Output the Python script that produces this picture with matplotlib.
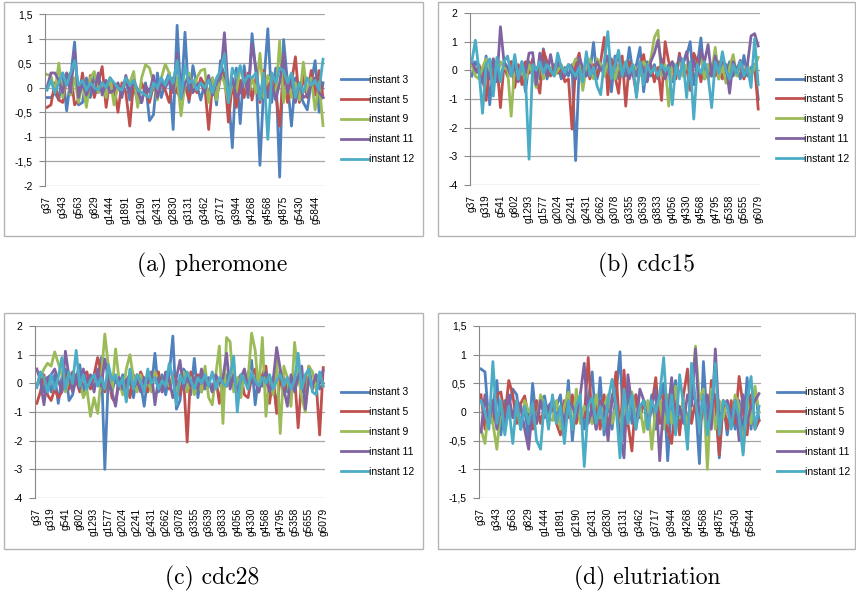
import matplotlib.pyplot as plt
from matplotlib.patches import Rectangle

W, H = 856, 594

series_names = ['instant 3', 'instant 5', 'instant 9', 'instant 11', 'instant 12']
colors = ['#4f81bd', '#c0504d', '#9bbb59', '#8064a2', '#4bacc6']

# tick labels (every 4th gene is labelled)
labels_ad = ['g37', 'g343', 'g563', 'g829', 'g1444', 'g1891', 'g2190', 'g2431', 'g2830',
             'g3131', 'g3462', 'g3717', 'g3944', 'g4268', 'g4568', 'g4875', 'g5430', 'g5844']
labels_bc = ['g37', 'g319', 'g541', 'g802', 'g1293', 'g1577', 'g2024', 'g2241', 'g2431',
             'g2662', 'g3078', 'g3355', 'g3639', 'g3833', 'g4056', 'g4330', 'g4568', 'g4795',
             'g5358', 'g5655', 'g6079']

# (a) pheromone
pher_3 = [-0.2, -0.2, -0.1, -0.25, 0.3, -0.47, 0.2, 0.93, -0.35, -0.3, 0.2, -0.2, 0.25, -0.1, 0.05, -0.2,
          0.1, -0.15, 0.05, -0.1, 0.2, -0.25, 0.05, -0.3, -0.3, 0.1, -0.67, -0.55, 0.3, -0.2, 0.1, 0.3,
          -0.85, 1.27, -0.25, 1.13, -0.3, 0.45, 0.05, -0.25, 0.1, -0.15, 0.2, -0.35, 0.55, 0.2, -0.1, -1.22,
          0.4, -0.73, 0.45, -0.2, 1.1, 0.3, -1.58, 0.1, 1.2, -0.3, 0.4, -1.82, 0.98, 0.1, -0.78, 0.2,
          -0.1, -0.3, -0.45, 0.1, 0.55, -0.5, 0.1]
pher_5 = [-0.4, -0.35, 0.1, -0.25, -0.3, 0.2, 0.3, -0.35, -0.25, 0.3, -0.3, 0.25, -0.2, 0.1, 0.43, -0.4,
          0.2, 0.05, -0.5, 0.1, -0.1, -0.78, 0.15, -0.2, 0.1, -0.1, -0.3, 0.05, -0.2, 0.1, -0.05, -0.3,
          0.2, -0.1, -0.2, 0.05, -0.25, 0.1, -0.1, 0.2, 0.05, -0.85, 0.1, -0.2, 0.2, 0.3, -0.7, 0.1,
          -0.4, 0.15, -0.2, 0.3, -0.25, 0.2, -0.3, 0.35, -0.1, 0.3, -0.1, -0.78, 0.4, -0.3, 0.1, 0.63,
          -0.3, 0.25, -0.2, 0.35, -0.15, 0.35, -0.2]
pher_9 = [0.27, 0.25, -0.1, 0.5, -0.2, 0.3, -0.15, 0.2, -0.3, 0.1, -0.4, 0.2, 0.33, -0.1, 0.1, -0.2,
          0.2, -0.35, 0.05, -0.15, 0.2, 0.1, 0.33, -0.4, 0.2, 0.47, 0.4, 0.1, -0.25, 0.2, 0.48, 0.3,
          -0.1, 0.2, -0.57, 0.1, 0.3, -0.1, 0.2, 0.35, 0.38, -0.3, 0.2, -0.25, 0.3, 0.1, -0.3, 0.1,
          -0.1, 0.4, 0.2, -0.15, 0.2, -0.1, 0.7, -0.2, 0.25, 0.1, -0.2, 0.95, -0.3, 0.2, -0.2, 0.1,
          -0.25, 0.52, -0.1, 0.2, -0.45, 0.1, -0.77]
pher_11 = [0.0, 0.3, 0.3, 0.15, -0.1, 0.3, -0.1, 0.75, -0.2, 0.1, -0.15, 0.05, -0.1, 0.3, -0.15, 0.15,
           -0.1, -0.05, 0.1, -0.2, 0.25, -0.1, 0.15, -0.05, -0.3, 0.05, -0.1, 0.25, -0.2, 0.1, 0.0, 0.15,
           -0.1, 0.7, -0.2, 0.1, 0.2, -0.1, 0.05, 0.1, -0.1, 0.25, -0.15, 0.1, 0.2, 1.12, -0.1, 0.2,
           -0.2, -0.1, 0.3, -0.15, 0.9, 0.38, -0.2, 0.15, -0.2, 0.1, -0.25, 0.1, 0.7, -0.1, 0.2, -0.3,
           0.1, -0.2, -0.15, 0.05, 0.2, -0.1, -0.2]
pher_12 = [-0.05, 0.15, -0.1, 0.1, 0.3, 0.05, 0.3, 0.55, 0.05, 0.15, -0.05, 0.1, 0.0, -0.05, 0.1, 0.0,
           0.2, 0.1, 0.0, -0.05, 0.2, 0.05, 0.15, -0.05, -0.1, -0.15, -0.2, 0.1, 0.0, 0.2, 0.05, 0.25,
           0.1, 0.55, -0.2, 0.45, 0.1, 0.15, -0.05, 0.1, 0.0, 0.15, -0.1, 0.2, 0.35, 0.68, -0.3, 0.4,
           0.2, 0.45, 0.1, 0.25, 0.2, 0.3, -0.25, 0.3, -1.05, 0.3, 0.1, 0.4, 0.35, 0.1, 0.3, -0.2,
           0.1, -0.1, 0.2, 0.05, 0.15, -0.05, 0.58]

# (b) cdc15
c15_3 = [-0.2, 0.3, 0.1, -0.3, 0.5, -1.2, 0.2, -0.1, -0.3, 0.2, -0.2, 0.3, 0.1, -0.2, 0.2, -0.75,
         0.3, -0.2, 0.1, -0.3, 0.75, -0.3, 0.1, -0.1, 0.2, -0.3, 0.1, -0.2, 0.2, -3.15, 0.1, -0.3,
         0.4, -0.1, 0.97, -0.3, 0.2, -0.2, 0.3, -0.75, 0.5, -0.3, 0.3, -0.2, 0.8, -0.1, 0.2, 0.8,
         -0.75, 0.3, -0.2, 0.2, -0.3, 0.4, -0.1, 0.2, -0.4, 0.1, -0.2, 0.3, 0.5, 1.0, -0.5, 0.2,
         1.13, -0.3, 0.2, -0.2, 0.3, -0.3, 0.2, -0.1, 0.3, -0.2, 0.1, -0.3, 0.52, -0.2, 0.1, 0.2, -1.0]
c15_5 = [0.3, -0.1, 0.2, -0.2, -1.05, 0.2, -0.3, 0.3, -1.3, 0.2, -0.2, 0.3, -0.6, 0.2, -0.5, 0.3,
         -0.1, 0.4, -0.3, -0.8, 0.7, 0.3, -0.2, 0.2, -0.1, 0.1, -0.4, -0.3, -2.05, 0.2, 0.6, -0.2,
         0.1, -0.3, 0.2, -0.2, 0.3, 1.15, -0.85, 0.4, -0.2, -0.8, 0.5, -1.25, 0.3, -0.1, -0.85, 0.2,
         0.55, -0.3, 0.2, -0.4, 0.1, -1.05, 1.0, 0.3, 0.1, -0.3, 0.6, -0.2, 0.1, -0.7, 0.6, 0.3,
         -0.4, 0.3, -0.3, 0.2, -0.2, 0.3, -0.3, 0.1, -0.2, 0.3, -0.1, 0.2, -0.3, 0.1, -0.2, 0.2, -1.35]
c15_9 = [0.2, -0.2, -0.3, 0.1, 0.4, -0.2, 0.4, -0.3, 0.3, 0.1, 0.0, -1.6, 0.2, -0.2, 0.1, -0.4,
         0.2, -0.1, -0.6, 0.4, -0.3, -0.1, 0.1, -0.2, 0.0, 0.2, -0.1, 0.2, 0.1, 0.4, 0.3, -0.7,
         0.1, 0.4, -0.3, 0.4, 0.2, -0.2, 0.3, 0.1, -0.3, 0.2, -0.1, 0.3, -0.2, 0.2, 0.0, -0.2,
         0.3, 0.1, 0.4, 1.15, 1.4, -0.2, 0.2, -1.25, 0.3, 0.1, 0.4, -0.2, 0.2, -0.1, 0.3, 0.1,
         0.5, -0.3, 0.2, -0.1, 0.8, -0.3, 0.2, -0.45, 0.1, 0.55, -0.2, 0.3, -0.1, 0.2, -0.2, 0.1, 0.45]
c15_11 = [0.35, 0.0, -0.1, -0.45, 0.1, -0.3, 0.4, -0.4, 1.52, 0.3, 0.1, -0.2, 0.2, -0.4, 0.3, -0.1,
          0.6, 0.62, -0.5, 0.6, 0.1, -0.2, 0.55, -0.1, 0.3, 0.1, -0.2, 0.2, 0.1, -0.3, 0.45, 0.1,
          -0.2, 0.2, -0.1, 0.3, 0.0, 0.2, 0.5, -0.3, 0.2, 0.5, -0.2, 0.2, -0.3, 0.1, -0.2, 0.3,
          0.0, -0.4, 0.3, 0.6, 1.05, 0.2, -0.3, 0.1, 0.3, -0.1, 0.5, 0.2, 0.65, -0.3, 0.4, -0.2,
          0.7, 0.3, 0.9, -0.2, 0.5, 0.0, 0.3, 0.2, -0.8, 0.3, 0.0, 0.35, -0.2, 0.2, 1.2, 1.28, 0.85]
c15_12 = [0.3, 1.05, 0.0, -1.5, 0.2, 0.4, -0.9, 0.45, -0.4, 0.3, 0.5, -0.2, 0.55, -0.3, 0.3, -0.3,
          -3.1, 0.2, 0.0, 0.3, -0.1, 0.2, 0.0, -0.2, 0.6, 0.1, -0.1, 0.2, 0.0, -0.2, 0.1, -0.4,
          0.65, -0.2, 0.1, -0.55, -0.85, 0.3, 1.35, -0.3, 0.2, 0.7, -0.2, 0.3, -0.1, 0.2, -0.95, 0.3,
          -0.5, 0.2, -0.1, 0.1, -0.2, 0.2, 0.0, 0.1, -1.2, 0.2, -0.3, 0.4, -0.95, 0.3, -1.7, 0.2,
          -0.1, 0.3, -0.2, -1.3, 0.3, -0.1, 0.65, 0.0, -0.3, 0.2, -0.1, 0.3, -0.2, 0.1, -0.6, 1.1, -0.5]

# (c) cdc28
c28_3 = [-0.1, 0.3, -0.3, 0.2, -0.3, 0.3, -0.7, 0.2, 0.5, -0.6, -0.4, 0.2, 0.65, -0.3, 0.2, -0.1,
         0.3, 0.1, 0.9, -3.0, 0.3, -0.3, 0.2, -0.2, 0.3, -0.2, 0.1, -0.5, 0.3, 0.0, -0.8, 0.2,
         -0.2, 1.05, -0.3, 0.3, -0.4, 0.3, 1.65, -0.9, -0.6, 0.5, 0.3, -0.4, 0.87, -0.5, 0.3, -0.2,
         0.1, -0.3, 0.2, 0.0, -0.3, 0.3, -0.1, 0.2, -0.3, 0.1, 0.2, 0.3, 0.8, -0.75, 0.3, -0.1,
         0.2, -0.3, 0.1, -0.9, 0.4, 0.2, -0.3, 0.1, -0.2, 0.3, -0.3, 0.2, 0.1, -0.2, 0.3, -0.2, 0.0]
c28_5 = [-0.7, -0.3, 0.3, -0.4, -0.6, -0.2, -0.5, -0.3, 0.3, -0.2, 0.4, 0.1, -0.3, 0.3, 0.4, -0.2,
         0.3, 0.9, 0.4, -0.3, 0.2, -0.5, -0.7, 0.2, -0.3, 0.1, -0.5, 0.3, -0.2, 0.4, 0.1, -0.3,
         0.2, 0.1, 0.4, -0.3, 0.3, -0.2, 0.3, 0.1, -0.4, 0.2, -2.05, 0.4, -0.2, 0.3, -0.3, 0.1,
         0.0, -0.2, 0.2, -0.7, 0.2, -0.1, 0.3, -0.2, 0.1, 0.3, -0.4, -0.5, 0.2, 0.5, -0.3, 0.3,
         0.6, -0.7, 0.2, -1.05, 0.3, -0.4, 0.2, -0.5, 0.3, -1.55, 0.2, -0.3, 0.6, -0.2, 0.1, -1.8, 0.55]
c28_9 = [-0.1, 0.2, 0.5, 0.7, 0.6, 1.1, 0.7, 0.3, -0.3, 0.2, -0.2, 0.3, 0.1, -0.5, -0.2, -1.15,
         -0.5, -1.05, 0.2, 1.72, 0.6, -0.3, 1.2, 0.1, -0.4, 0.5, 1.0, 0.2, -0.3, 0.3, -0.2, 0.1,
         -0.3, 0.4, 0.1, -0.2, 0.3, -0.1, 0.2, -0.3, 0.1, 0.4, -0.3, 0.2, -0.4, 0.1, -0.3, 0.6,
         -0.5, -0.75, 0.3, 1.3, -1.4, 1.6, 1.45, -0.3, 0.2, -0.5, 0.4, 0.1, 1.75, 1.15, -0.3, 1.6,
         -1.15, 0.3, -0.4, 0.9, -1.75, 0.6, 0.2, -0.8, 1.43, 0.3, -0.5, -1.0, 0.6, 0.4, -0.2, 0.2, -0.1]
c28_11 = [0.5, 0.1, -0.75, 0.2, 0.3, 0.5, 0.1, -0.3, 1.12, 0.2, -0.3, 0.3, -0.2, 0.5, -0.1, 0.3,
          -0.3, 0.5, -0.1, 0.85, 0.1, -0.3, -0.8, 0.2, -0.2, 0.1, 0.3, -0.2, 0.1, -0.3, 0.2, 0.0,
          0.4, -0.75, 0.2, -0.3, 0.4, 0.1, -0.5, 0.2, 0.8, -0.2, 0.3, -0.1, 0.2, -0.2, 0.5, -0.1,
          0.2, -0.3, 0.3, 0.0, 0.2, 1.05, -0.2, 0.3, -0.3, 0.2, 0.5, -0.2, 0.3, 0.1, -0.3, 0.2,
          0.4, -0.3, 0.1, 1.25, 0.5, -0.2, -0.8, 0.3, -0.3, 0.2, 0.6, -0.9, 0.2, -0.1, 0.3, 0.0, 0.45]
c28_12 = [-0.15, 0.4, 0.2, -0.3, 0.3, -0.2, 0.2, 0.9, -0.2, 0.4, 0.0, 1.15, -0.1, 0.3, -0.2, 0.1,
          0.3, -0.1, 0.2, -0.2, 0.65, 0.1, 0.3, -0.1, 0.2, -0.65, 0.5, -0.2, 0.3, 0.1, -0.3, 0.5,
          0.0, 0.2, -0.2, 0.1, -0.1, 0.7, 0.2, -0.75, 0.3, 0.0, 0.4, 0.1, -0.2, 0.2, 0.0, 0.3,
          -0.1, 0.4, -0.2, 0.2, 0.0, -0.1, 0.3, 0.95, -1.0, 0.3, 0.1, -0.2, 0.4, 0.1, -0.1, 0.2,
          0.0, 0.3, -0.2, 0.1, 0.3, -0.1, 0.2, -0.2, 0.1, 1.05, -0.2, 0.3, 0.5, -0.3, -0.4, 0.4, -0.1]

# (d) elutriation
elu_3 = [0.75, 0.7, -0.2, 0.1, 0.55, -0.4, 0.2, 0.1, 0.4, 0.3, -0.3, 0.1, -0.5, 0.5, -0.2, 0.2,
         0.28, -0.1, 0.2, 0.1, 0.3, -0.3, 0.55, -0.5, 0.2, 0.1, -0.3, 0.2, 0.7, -0.3, 0.6, -0.4,
         0.2, -0.3, 0.3, 1.05, -0.5, 0.4, -0.2, 0.3, -0.1, 0.2, -0.2, 0.3, -0.3, 0.2, 0.5, -0.85,
         0.2, 0.55, -0.3, 0.2, -0.2, 0.3, 0.2, -0.9, 0.88, -0.2, 0.1, 0.3, -0.8, 0.2, -0.4, 0.1,
         -0.3, 0.2, -0.4, 0.6, -0.3, 0.4, -0.15]
elu_5 = [0.3, -0.3, 0.1, -0.2, 0.3, 0.35, -0.1, 0.55, 0.3, -0.2, 0.15, 0.28, -0.1, -0.3, 0.2, -0.2,
         0.1, 0.05, 0.1, -0.2, -0.4, 0.2, -0.1, 0.3, -0.2, 0.1, -0.1, 0.95, -0.2, 0.2, -0.3, 0.3,
         -0.3, 0.2, 0.7, -0.4, 0.73, -0.2, -0.68, 0.3, -0.1, 0.2, -0.3, 0.1, 0.6, -0.2, 0.3, -0.3,
         -0.55, 0.2, -0.4, 0.3, 0.75, -0.2, 0.2, -0.3, 0.1, -0.4, 0.55, 0.1, -0.75, 0.2, -0.3, 0.2,
         -0.2, 0.62, 0.1, -0.4, 0.3, -0.3, -0.15]
elu_9 = [-0.3, -0.55, 0.1, -0.2, -0.65, 0.1, -0.2, 0.2, -0.1, 0.1, -0.3, 0.2, 0.0, 0.1, -0.2, 0.3,
         0.1, -0.1, -0.15, 0.2, -0.3, 0.1, 0.35, -0.3, 0.4, -0.2, 0.1, 0.0, -0.2, 0.3, -0.1, 0.1,
         0.3, -0.2, 0.1, -0.3, 0.2, -0.2, 0.35, -0.1, 0.1, -0.35, 0.2, -0.65, 0.1, 0.2, -0.3, 0.3,
         -0.2, 0.45, -0.1, 0.2, -0.3, 0.3, 1.15, 0.2, 0.4, -1.0, 0.4, -0.3, 0.2, -0.1, 0.2, -0.2,
         0.3, 0.1, -0.7, 0.2, -0.2, 0.45, 0.0]
elu_11 = [-0.35, 0.3, -0.2, 0.2, -0.3, 0.1, -0.2, 0.3, -0.1, 0.2, 0.1, -0.3, -0.65, 0.1, -0.2, 0.2,
          -0.1, 0.1, 0.2, -0.1, 0.1, -0.2, 0.2, 0.1, -0.1, 0.3, 0.85, -0.2, 0.1, -0.3, 0.2, 0.1,
          -0.5, 0.3, 0.1, -0.4, -0.8, 0.65, 0.1, -0.3, 0.4, 0.2, -0.2, 0.1, 0.4, -0.85, 0.2, -0.1,
          0.6, -0.3, 0.1, -0.2, 0.3, 0.1, 1.1, -0.2, 0.1, 0.3, -0.3, 1.1, -0.2, 0.1, 0.2, -0.1,
          0.2, -0.5, 0.3, -0.2, 0.1, 0.2, 0.32]
elu_12 = [0.2, 0.0, -0.3, 0.88, -0.2, 0.2, -0.4, 0.1, -0.55, 0.2, -0.3, 0.1, -0.2, 0.15, -0.5, -0.65,
          0.2, -0.3, 0.3, -0.2, 0.1, -0.55, 0.2, -0.3, 0.1, 0.3, -0.95, 0.1, 0.25, -0.2, 0.1, -0.3,
          0.2, 0.57, 0.1, -0.8, 0.4, -0.2, 0.3, -0.3, 0.1, 0.2, -0.3, 0.2, 0.0, 0.3, 0.95, -0.2,
          0.3, -0.4, 0.65, 0.1, -0.65, 0.85, 0.2, -0.3, 0.3, -0.4, 0.1, 0.85, -0.4, 0.2, 0.1, -0.3,
          0.2, -0.1, -0.75, 0.2, 0.62, -0.3, 0.1]

yt_a = [1.5, 1, 0.5, 0, -0.5, -1, -1.5, -2]
yl_a = ['1,5', '1', '0,5', '0', '-0,5', '-1', '-1,5', '-2']
yt_b = [2, 1, 0, -1, -2, -3, -4]
yl_b = ['2', '1', '0', '-1', '-2', '-3', '-4']
yt_d = [1.5, 1, 0.5, 0, -0.5, -1, -1.5]
yl_d = ['1,5', '1', '0,5', '0', '-0,5', '-1', '-1,5']

panels = [
    dict(frame=(4, 2, 423, 236), ax=(45, 14, 325, 186), data=[pher_3, pher_5, pher_9, pher_11, pher_12],
         yt=yt_a, yl=yl_a, xl=labels_ad, leg=(341, 119.5), cap='(a) pheromone', capxy=(212, 265)),
    dict(frame=(438, 2, 855, 236), ax=(470, 13, 760, 185), data=[c15_3, c15_5, c15_9, c15_11, c15_12],
         yt=yt_b, yl=yl_b, xl=labels_bc, leg=(776, 119), cap='(b) cdc15', capxy=(647, 265)),
    dict(frame=(4, 313, 423, 549), ax=(35, 326, 325, 498), data=[c28_3, c28_5, c28_9, c28_11, c28_12],
         yt=yt_b, yl=yl_b, xl=labels_bc, leg=(341, 432), cap='(c) cdc28', capxy=(212, 578)),
    dict(frame=(438, 313, 855, 549), ax=(479, 326, 761, 498), data=[elu_3, elu_5, elu_9, elu_11, elu_12],
         yt=yt_d, yl=yl_d, xl=labels_ad, leg=(777, 432), cap='(d) elutriation', capxy=(647, 578)),
]

fig = plt.figure(figsize=(W / 100, H / 100), dpi=100)


def rect(x0, y0, x1, y1):
    return [x0 / W, 1 - y1 / H, (x1 - x0) / W, (y1 - y0) / H]


for p in panels:
    x0, y0, x1, y1 = p['frame']
    fig.patches.append(Rectangle((x0 / W, 1 - y1 / H), (x1 - x0) / W, (y1 - y0) / H,
                                 transform=fig.transFigure, fill=False, ec='#b4b4b4', lw=1.0))
    ax = fig.add_axes(rect(*p['ax']))
    n = len(p['data'][0])
    for vals, c, name in zip(p['data'], colors, series_names):
        ax.plot(range(len(vals)), vals, color=c, lw=2.0, label=name, solid_joinstyle='round')
    ax.set_xlim(-0.5, n - 0.5)
    ax.set_ylim(min(p['yt']), max(p['yt']))
    ax.set_yticks(p['yt'])
    ax.set_yticklabels(p['yl'], fontsize=7.5, family='Liberation Sans')
    ax.set_xticks(range(0, n, 4)[:len(p['xl'])])
    ax.set_xticklabels(p['xl'], rotation=90, fontsize=7.3, family='Liberation Sans')
    ax.tick_params(axis='x', length=0, pad=7)
    ax.tick_params(axis='y', length=4, color='#888888', width=0.8, pad=5)
    ax.yaxis.grid(True, color='#a6a6a6', lw=0.9)
    ax.set_axisbelow(True)
    for s in ['top', 'right', 'bottom']:
        ax.spines[s].set_visible(False)
    ax.spines['left'].set_color('#888888')
    ax.spines['left'].set_linewidth(0.8)
    lx, ly = p['leg']
    ax.legend(loc='center left', bbox_to_anchor=(lx / W, 1 - ly / H), bbox_transform=fig.transFigure,
              frameon=False, prop={'family': 'Liberation Sans', 'size': 7.5}, handlelength=2.6,
              handletextpad=0.05, labelspacing=0.95, borderaxespad=0, borderpad=0)
    cx, cy = p['capxy']
    fig.text(cx / W, 1 - cy / H, p['cap'], ha='center', va='center', fontsize=17, family='cmr10')

fig.savefig('out.png', dpi=100)
